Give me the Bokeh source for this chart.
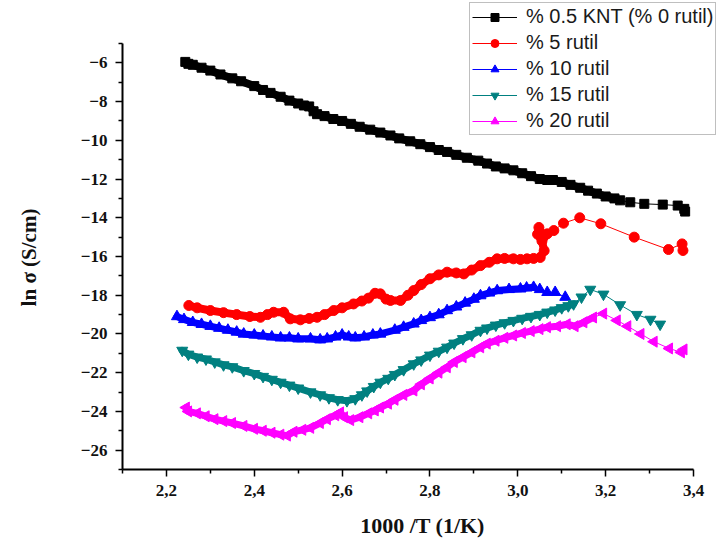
import math
from bokeh.plotting import figure
from bokeh.models import Legend, LegendItem, FixedTicker, Range1d, Label
from bokeh.embed import file_html
from bokeh.resources import INLINE

# ---------------- data ----------------
x_ticks = [2.2, 2.4, 2.6, 2.8, 3.0, 3.2, 3.4]
x_tick_labels = ["2,2", "2,4", "2,6", "2,8", "3,0", "3,2", "3,4"]
x_minor_ticks = [2.1, 2.3, 2.5, 2.7, 2.9, 3.1, 3.3]
y_ticks = [-26, -24, -22, -20, -18, -16, -14, -12, -10, -8, -6]
y_minor_ticks = [-27, -25, -23, -21, -19, -17, -15, -13, -11, -9, -7, -5]

x_title = "1000 /T (1/K)"
y_title = "ln σ (S/cm)"
series_names = ["% 0.5 KNT (% 0 rutil)", "% 5 rutil", "% 10 rutil", "% 15 rutil", "% 20 rutil"]

black_x = [2.243, 2.25, 2.26, 2.28, 2.30, 2.323, 2.35, 2.37, 2.40, 2.42, 2.437, 2.46, 2.48, 2.50,
           2.513, 2.525, 2.535, 2.543, 2.56, 2.58, 2.60, 2.62, 2.64, 2.664, 2.687, 2.71, 2.73, 2.755,
           2.778, 2.80, 2.82, 2.839, 2.86, 2.884, 2.91, 2.93, 2.95, 2.97, 2.99, 3.01, 3.03, 3.05,
           3.067, 3.08, 3.10, 3.12, 3.142, 3.16, 3.18, 3.20, 3.22, 3.233]
black_y = [-5.95, -6.05, -6.1, -6.25, -6.4, -6.6, -6.8, -6.95, -7.2, -7.4, -7.55, -7.75, -7.95, -8.1,
           -8.2, -8.25, -8.5, -8.65, -8.75, -8.9, -9.0, -9.15, -9.3, -9.45, -9.6, -9.75, -9.9, -10.05,
           -10.2, -10.35, -10.5, -10.6, -10.75, -10.9, -11.05, -11.2, -11.35, -11.45, -11.55, -11.7, -11.85, -12.0,
           -12.05, -12.05, -12.15, -12.3, -12.45, -12.6, -12.75, -12.9, -13.0, -13.1]
black_tail_x = [3.256, 3.288, 3.33, 3.364, 3.379, 3.381]
black_tail_y = [-13.2, -13.28, -13.32, -13.37, -13.54, -13.68]

red_x = [2.251, 2.27, 2.30, 2.33, 2.36, 2.39, 2.414, 2.43, 2.444, 2.467, 2.482, 2.505, 2.525, 2.543,
         2.56, 2.581, 2.60, 2.626, 2.645, 2.66, 2.675, 2.687, 2.70, 2.71, 2.733, 2.75, 2.763, 2.78,
         2.80, 2.82, 2.839, 2.86, 2.877, 2.895, 2.915, 2.935, 2.953, 2.97, 2.99, 3.006, 3.021, 3.036,
         3.051, 3.06, 3.055, 3.045, 3.048, 3.058, 3.067]
red_y = [-18.53, -18.65, -18.79, -18.9, -19.0, -19.1, -19.14, -19.0, -18.88, -18.88, -19.22, -19.27, -19.2, -19.14,
         -19.0, -18.79, -18.65, -18.45, -18.3, -18.15, -17.9, -17.93, -18.2, -18.27, -18.27, -18.0, -17.76, -17.45,
         -17.15, -16.95, -16.81, -16.85, -16.9, -16.7, -16.47, -16.3, -16.12, -16.1, -16.12, -16.15, -16.12, -16.1,
         -16.05, -15.7, -15.2, -14.85, -14.5, -15.0, -14.83]
red_tail_x = [3.082, 3.104, 3.141, 3.189, 3.265, 3.343, 3.374, 3.376]
red_tail_y = [-14.66, -14.28, -14.0, -14.31, -15.0, -15.64, -15.35, -15.69]

blue_x = [2.224, 2.24, 2.26, 2.28, 2.30, 2.32, 2.34, 2.36, 2.376, 2.40, 2.42, 2.44, 2.46, 2.48,
          2.50, 2.528, 2.55, 2.566, 2.585, 2.60, 2.615, 2.63, 2.65, 2.67, 2.687, 2.72, 2.74, 2.763,
          2.78, 2.80, 2.82, 2.839, 2.86, 2.88, 2.90, 2.915, 2.935, 2.953, 2.98, 3.006, 3.02, 3.036]
blue_y = [-19.1, -19.25, -19.4, -19.5, -19.6, -19.7, -19.8, -19.9, -20.0, -20.05, -20.1, -20.15, -20.2, -20.2,
          -20.25, -20.25, -20.3, -20.25, -20.15, -20.05, -20.15, -20.2, -20.15, -20.05, -20.0, -19.8, -19.65, -19.48,
          -19.3, -19.15, -19.0, -18.79, -18.6, -18.4, -18.2, -18.02, -17.88, -17.76, -17.7, -17.67, -17.62, -17.59]
blue_tail_x = [3.05, 3.067, 3.085, 3.108]
blue_tail_y = [-17.7, -17.85, -17.85, -18.1]

teal_x = [2.236, 2.25, 2.27, 2.29, 2.31, 2.33, 2.35, 2.376, 2.40, 2.42, 2.44, 2.46, 2.48, 2.50,
          2.528, 2.55, 2.57, 2.59, 2.611, 2.63, 2.645, 2.657, 2.672, 2.687, 2.705, 2.72, 2.74, 2.763,
          2.78, 2.80, 2.82, 2.839, 2.855, 2.875, 2.895, 2.915, 2.93, 2.95, 2.97, 2.99, 3.01, 3.03,
          3.05, 3.067, 3.085, 3.10, 3.115, 3.127]
teal_y = [-20.85, -21.05, -21.2, -21.3, -21.45, -21.6, -21.7, -21.9, -22.05, -22.2, -22.35, -22.5, -22.65, -22.8,
          -23.0, -23.15, -23.3, -23.4, -23.45, -23.35, -23.15, -22.95, -22.72, -22.5, -22.3, -22.1, -21.85, -21.55,
          -21.35, -21.1, -20.9, -20.69, -20.48, -20.25, -20.05, -19.82, -19.7, -19.55, -19.43, -19.31, -19.2, -19.1,
          -19.0, -18.88, -18.77, -18.65, -18.55, -18.45]
teal_tail_x = [3.145, 3.165, 3.195, 3.233, 3.271, 3.302, 3.324]
teal_tail_y = [-18.1, -17.7, -17.95, -18.5, -19.0, -19.25, -19.5]

magenta_x = [2.245, 2.25, 2.27, 2.29, 2.31, 2.33, 2.35, 2.376, 2.40, 2.42, 2.44, 2.46, 2.475, 2.49,
             2.51, 2.528, 2.55, 2.566, 2.585, 2.596, 2.605, 2.619, 2.64, 2.66, 2.675, 2.687, 2.705, 2.72,
             2.74, 2.763, 2.78, 2.80, 2.82, 2.839, 2.855, 2.875, 2.895, 2.915, 2.93, 2.95, 2.97, 2.99,
             3.01, 3.03, 3.05, 3.067, 3.09, 3.112, 3.13, 3.15, 3.172]
magenta_y = [-23.8, -24.0, -24.1, -24.25, -24.4, -24.5, -24.6, -24.75, -24.9, -25.0, -25.1, -25.2, -25.25, -25.05,
             -24.95, -24.85, -24.6, -24.4, -24.2, -24.05, -24.3, -24.45, -24.3, -24.1, -23.95, -23.8, -23.6, -23.4,
             -23.15, -22.92, -22.6, -22.3, -22.0, -21.72, -21.45, -21.2, -20.95, -20.69, -20.5, -20.35, -20.2, -20.08,
             -19.95, -19.85, -19.75, -19.65, -19.6, -19.5, -19.6, -19.4, -19.15]
magenta_tail_x = [3.195, 3.226, 3.25, 3.28, 3.31, 3.345, 3.372, 3.378]
magenta_tail_y = [-18.95, -19.3, -19.6, -20.0, -20.4, -20.75, -20.95, -20.8]

# ---------------- layout ----------------
W, H = 720, 543
box_left, box_right, box_top, box_bottom = 122, 693, 43, 469   # plotting box in pixels
x_lo, x_hi = 2.1, 3.4
y_lo, y_hi = -27, -5
sx_scale = (box_right - box_left) / (x_hi - x_lo)
sy_scale = (box_bottom - box_top) / (y_hi - y_lo)


def px_to_x(px):
    return x_lo + (px - box_left) / sx_scale


def py_to_y(py):
    return y_lo + (box_bottom - py) / sy_scale


# the frame covers the whole canvas; axes are pinned to the plotting box
p = figure(width=W, height=H, output_backend="svg", toolbar_location=None,
           x_range=Range1d(px_to_x(0), px_to_x(W)),
           y_range=Range1d(py_to_y(H), py_to_y(0)),
           min_border=0, min_border_left=0, min_border_right=0,
           min_border_top=0, min_border_bottom=0)
p.outline_line_color = None
p.xgrid.visible = False
p.ygrid.visible = False
p.background_fill_color = "white"
p.border_fill_color = "white"

series = [
    (black_x, black_y, black_tail_x, black_tail_y, "black", "square", 9, 8),
    (red_x, red_y, red_tail_x, red_tail_y, "#ff0000", "circle", 10, 8),
    (blue_x, blue_y, blue_tail_x, blue_tail_y, "#0000ff", "triangle", 11, 7),
    (teal_x, teal_y, teal_tail_x, teal_tail_y, "#008080", "inverted_triangle", 11, 7),
    (magenta_x, magenta_y, magenta_tail_x, magenta_tail_y, "#ff00ff", "triangle", 11, 7),
]

items = []
for i, (xs, ys, tx, ty, col, mk, sz, bw) in enumerate(series):
    allx = xs + tx
    ally = ys + ty
    p.line(xs, ys, line_color=col, line_width=bw, line_join="round", line_cap="round")
    ln = p.line(allx, ally, line_color=col, line_width=1)
    if i == 4:
        sc = p.scatter(allx, ally, marker=mk, size=sz, angle=math.pi / 2, fill_color=col, line_color=col)
    else:
        sc = p.scatter(allx, ally, marker=mk, size=sz, fill_color=col, line_color=col)
    items.append(LegendItem(label=series_names[i], renderers=[ln, sc]))

legend = Legend(items=items, location=(469, 408), orientation="vertical",
                label_text_font="Liberation Sans", label_text_font_size="20px",
                label_text_color="#1a1a1a",
                glyph_width=45, glyph_height=20, label_height=20, label_standoff=9,
                spacing=3, padding=2, margin=0,
                border_line_color="#808080", border_line_width=1.5,
                background_fill_color="white", background_fill_alpha=1.0)
p.add_layout(legend)

# axes
for ax in (p.xaxis[0], p.yaxis[0]):
    ax.axis_line_width = 2
    ax.axis_line_color = "black"
    ax.major_tick_line_width = 1.5
    ax.minor_tick_line_width = 1.5
    ax.major_tick_line_color = "black"
    ax.minor_tick_line_color = "black"
    ax.major_tick_in = 0
    ax.major_tick_out = 7
    ax.minor_tick_in = 0
    ax.minor_tick_out = 4
    ax.major_label_text_font = "Liberation Serif"
    ax.major_label_text_font_style = "bold"
    ax.major_label_text_font_size = "17px"
    ax.major_label_text_color = "#111111"

p.xaxis[0].fixed_location = y_lo
p.xaxis[0].bounds = (x_lo, x_hi)
p.xaxis[0].ticker = FixedTicker(ticks=x_ticks, minor_ticks=x_minor_ticks)
p.xaxis[0].major_label_overrides = {t: l for t, l in zip(x_ticks, x_tick_labels)}
p.xaxis[0].major_label_standoff = 8

p.yaxis[0].fixed_location = x_lo
p.yaxis[0].bounds = (y_lo, y_hi)
p.yaxis[0].ticker = FixedTicker(ticks=y_ticks, minor_ticks=y_minor_ticks)
p.yaxis[0].major_label_standoff = 8

# axis titles
p.add_layout(Label(x=px_to_x(422), y=py_to_y(525), text=x_title,
                   text_font="Liberation Serif", text_font_style="bold", text_font_size="22px",
                   text_color="#111111", text_align="center", text_baseline="middle"))
p.add_layout(Label(x=px_to_x(28), y=py_to_y(257), text=y_title, angle=math.pi / 2,
                   text_font="Liberation Serif", text_font_style="bold", text_font_size="21px",
                   text_color="#111111", text_align="center", text_baseline="middle"))

open("out.html", "w").write(file_html(p, INLINE))
